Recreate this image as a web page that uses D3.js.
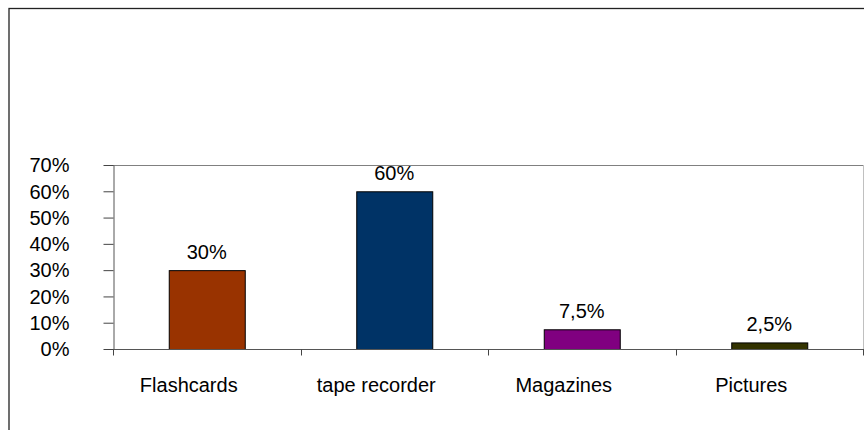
<!DOCTYPE html>
<html>
<head>
<meta charset="utf-8">
<script src="https://cdn.jsdelivr.net/npm/d3@7"></script>
<style>
  html, body { margin: 0; padding: 0; background: #fff; }
  svg { display: block; }
  text { font-family: "Liberation Sans", Arial, sans-serif; fill: #000; }
</style>
</head>
<body>
<script>
const categories = ["Flashcards", "tape recorder", "Magazines", "Pictures"];
const values = [30, 60, 7.5, 2.5];
const valueLabels = ["30%", "60%", "7,5%", "2,5%"];
const colors = ["#993300", "#003366", "#800080", "#333300"];
const yTicks = [0, 10, 20, 30, 40, 50, 60, 70];

const W = 864, H = 430;
const m = { left: 113, right: 1, top: 165, bottom: 81 };
const FS = 20;

const svg = d3.select("body").append("svg").attr("width", W).attr("height", H);

// outer chart border
svg.append("rect").attr("x", 9).attr("y", 8.5).attr("width", W + 20).attr("height", H + 20)
  .attr("fill", "none").attr("stroke", "#222").attr("stroke-width", 1.3);

const x = d3.scaleBand().domain(categories).range([m.left, W - m.right]).paddingInner(0).paddingOuter(0);
const y = d3.scaleLinear().domain([0, 70]).range([H - m.bottom, m.top]);

// plot area border (top & right)
svg.append("line").attr("x1", m.left).attr("x2", W - m.right).attr("y1", y(70) + 0.5).attr("y2", y(70) + 0.5)
  .attr("stroke", "#808080");
svg.append("line").attr("x1", W - m.right + 0.5).attr("x2", W - m.right + 0.5).attr("y1", y(70)).attr("y2", y(0))
  .attr("stroke", "#c0c0c0");

// bars
const bw = 76;
svg.selectAll("rect.bar").data(categories).enter().append("rect")
  .attr("class", "bar")
  .attr("x", (d) => x(d) + x.bandwidth() / 2 - bw / 2 + 0.5)
  .attr("y", (d, i) => y(values[i]) + 0.5)
  .attr("width", bw)
  .attr("height", (d, i) => y(0) - y(values[i]))
  .attr("fill", (d, i) => colors[i])
  .attr("stroke", "#000").attr("stroke-width", 1);

// value labels
svg.selectAll("text.vl").data(categories).enter().append("text")
  .attr("class", "vl")
  .attr("x", (d) => x(d) + x.bandwidth() / 2)
  .attr("y", (d, i) => y(values[i]) - 11)
  .attr("text-anchor", "middle")
  .attr("font-size", FS)
  .text((d, i) => valueLabels[i]);

// y axis
const yAxis = d3.axisLeft(y).tickValues(yTicks).tickSize(10).tickSizeOuter(0).tickFormat((d) => d + "%");
const gy = svg.append("g").attr("transform", `translate(${m.left + 0.5},0)`).call(yAxis);
gy.select(".domain").attr("stroke", "#555");
gy.selectAll(".tick line").attr("stroke", "#444");
gy.selectAll(".tick text").attr("font-size", FS).attr("x", -44).attr("dy", "0.34em")
  .style("font-family", "'Liberation Sans', Arial, sans-serif").attr("fill", "#000");

// x axis
const boundaries = categories.map((c) => x(c)).concat([W - m.right]);
const gx = svg.append("g").attr("transform", `translate(0,${y(0) + 0.5})`);
gx.append("line").attr("x1", m.left).attr("x2", W).attr("stroke", "#555");
gx.selectAll("line.t").data(boundaries).enter().append("line")
  .attr("class", "t")
  .attr("x1", (d) => Math.round(d) + 0.5).attr("x2", (d) => Math.round(d) + 0.5)
  .attr("y1", 0).attr("y2", 6).attr("stroke", "#444");
gx.selectAll("text").data(categories).enter().append("text")
  .attr("x", (d) => x(d) + x.bandwidth() / 2 - 18)
  .attr("y", 42)
  .attr("text-anchor", "middle")
  .attr("font-size", FS)
  .text((d) => d);
</script>
</body>
</html>
